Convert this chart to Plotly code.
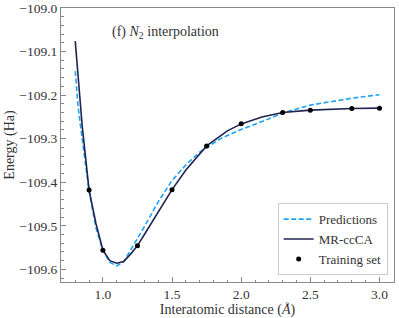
import plotly.graph_objects as go

# MR-ccCA reference curve
mr_x = [0.80, 0.85, 0.90, 0.95, 1.00, 1.05, 1.10, 1.15, 1.20, 1.25, 1.30, 1.40,
        1.50, 1.60, 1.75, 1.90, 2.00, 2.15, 2.30, 2.50, 2.80, 3.00]
mr_y = [-109.076, -109.270, -109.418, -109.495, -109.556, -109.580, -109.586,
        -109.582, -109.565, -109.5455, -109.520, -109.468, -109.417, -109.372,
        -109.3166, -109.282, -109.266, -109.250, -109.240, -109.2345,
        -109.2306, -109.2299]

# Predictions curve
pr_x = [0.80, 0.82, 0.85, 0.90, 0.95, 1.00, 1.05, 1.10, 1.15, 1.20, 1.25, 1.30,
        1.40, 1.50, 1.60, 1.70, 1.85, 2.00, 2.18, 2.30, 2.50, 2.80, 3.00]
pr_y = [-109.145, -109.225, -109.300, -109.420, -109.505, -109.556, -109.584,
        -109.592, -109.583, -109.557, -109.528, -109.502, -109.445, -109.396,
        -109.360, -109.331, -109.300, -109.279, -109.257, -109.241, -109.223,
        -109.207, -109.199]

# Training set
tr_x = [0.9, 1.0, 1.25, 1.5, 1.75, 2.0, 2.3, 2.5, 2.8, 3.0]
tr_y = [-109.418, -109.556, -109.5455, -109.417, -109.3166, -109.266,
        -109.240, -109.2345, -109.2306, -109.2299]

FONT = "Liberation Serif"
TXT = "#333333"
AX = "#888888"

fig = go.Figure()
fig.add_trace(go.Scatter(x=pr_x, y=pr_y, mode="lines", name="Predictions",
                         line=dict(color="#1fa2f5", width=1.6, dash="5px,2.5px")))
fig.add_trace(go.Scatter(x=mr_x, y=mr_y, mode="lines", name="MR-ccCA",
                         line=dict(color="#1f2450", width=1.6)))
fig.add_trace(go.Scatter(x=tr_x, y=tr_y, mode="markers", name="Training set",
                         marker=dict(color="black", size=5)))

fig.add_annotation(x=0.147, y=0.912, xref="paper", yref="paper",
                   xanchor="left", yanchor="middle", showarrow=False,
                   text="(f) <i>N</i><sub>2</sub> interpolation",
                   font=dict(family=FONT, size=14, color=TXT))

axis_common = dict(showline=True, linecolor=AX, linewidth=1, mirror=True,
                   ticks="inside", ticklen=5, tickcolor=AX, showgrid=False,
                   zeroline=False, tickfont=dict(family=FONT, size=13.5, color=TXT))

fig.update_xaxes(range=[0.697, 3.105], tickvals=[1.0, 1.5, 2.0, 2.5, 3.0],
                 tickformat=".1f",
                 minor=dict(ticks="inside", ticklen=2.5, dtick=0.1, tick0=0.0, tickcolor=AX),
                 title=dict(text="Interatomic distance (<i>Å</i>)", standoff=3,
                            font=dict(family=FONT, size=14, color=TXT)),
                 **axis_common)
fig.update_yaxes(range=[-109.629, -109.0], dtick=0.1, tick0=-109.0,
                 tickformat=".1f",
                 minor=dict(ticks="inside", ticklen=2.5, dtick=0.02, tick0=-109.0, tickcolor=AX),
                 title=dict(text="Energy (Ha)", standoff=1,
                            font=dict(family=FONT, size=14, color=TXT)),
                 **axis_common)

fig.update_layout(
    width=399, height=318,
    margin=dict(l=61, r=5, t=8, b=36, autoexpand=False),
    plot_bgcolor="white", paper_bgcolor="white",
    font=dict(family=FONT, size=13, color=TXT),
    showlegend=True,
    legend=dict(x=0.981, y=0.025, xanchor="right", yanchor="bottom",
                bgcolor="white", bordercolor="#cccccc", borderwidth=1,
                font=dict(family=FONT, size=13, color=TXT),
                tracegroupgap=0, itemwidth=30),
)

fig.write_html("out.html", config={"displayModeBar": False},
               post_script="document.body.style.margin='0';document.body.style.overflow='hidden';")
